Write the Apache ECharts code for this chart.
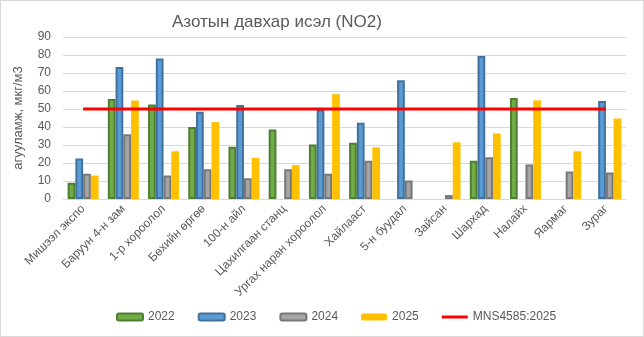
<!DOCTYPE html>
<html><head><meta charset="utf-8">
<script src="https://cdn.jsdelivr.net/npm/echarts@6/dist/echarts.min.js"></script>
<style>html,body{margin:0;padding:0;background:#fff}#c{width:644px;height:337px;box-sizing:border-box;border:1px solid #d9d9d9}</style>
</head><body><div id="c"></div>
<script>
const categories = ["Мишээл экспо","Баруун 4-н зам","1-р хороолол","Бөхийн өргөө","100-н айл","Цахилгаан станц","Ургах наран хороолол","Хайлааст","5-н буудал","Зайсан","Шархад","Налайх","Яармаг","Зураг"];
const v2022 = [9, 55.6, 52.5, 40, 29, 38.6, 30.3, 31.3, null, null, 21.3, 56.1, null, null];
const v2023 = [22.5, 73.4, 78, 48.5, 52.2, null, 49.7, 42.3, 66, null, 79.5, null, null, 54.5];
const v2024 = [14, 36, 13, 16.5, 11.5, 16.5, 14, 21.3, 10.3, 2.2, 23.2, 19.1, 15.3, 14.7];
const v2025 = [13, 54.7, 26.5, 42.7, 22.8, 18.8, 58.2, 28.7, null, 31.5, 36.4, 54.8, 26.5, 44.7];
const standard = [50,50,50,50,50,50,50,50,50,50,50,50,50,50];
const yTicks = {min:0, max:90, interval:10};

const font = 'Liberation Sans, Arial, sans-serif';
const chart = echarts.init(document.getElementById('c'));
function bar(name, data, fill, border){
  return {name, type:'bar', data, barGap:'0%', barCategoryGap:'23%',
    itemStyle:{color:fill, borderColor:border, borderWidth: border? 2:0}};
}
chart.setOption({
  animation:false,
  textStyle:{fontFamily:font},
  title:{text:'Азотын давхар исэл (NO2)', left:166, top:8,
    textStyle:{fontSize:17, fontWeight:'normal', color:'#595959', fontFamily:font}},
  grid:{left:62, right:17, top:36, bottom:137},
  legend:{bottom:8, left:110, itemGap:23, itemWidth:26, itemHeight:7,
    textStyle:{color:'#595959', fontSize:12, fontFamily:font},
    data:['2022','2023','2024','2025',{name:'MNS4585:2025', icon:'path://M0,0H26V3H0Z'}]},
  xAxis:{type:'category', data:categories,
    axisLine:{lineStyle:{color:'#d9d9d9'}}, axisTick:{show:false},
    axisLabel:{rotate:45, interval:0, color:'#595959', fontSize:12, fontFamily:font, margin:8}},
  yAxis:{type:'value', min:yTicks.min, max:yTicks.max, interval:yTicks.interval,
    name:'агууламж, мкг/м3', nameLocation:'middle', nameGap:38,
    nameTextStyle:{color:'#595959', fontSize:13, fontFamily:font},
    axisLine:{show:false}, axisTick:{show:false},
    splitLine:{lineStyle:{color:'#d9d9d9', width:1}},
    axisLabel:{color:'#595959', fontSize:12, fontFamily:font, margin:12}},
  series:[
    bar('2022', v2022, '#70AD47', '#507E32'),
    bar('2023', v2023, '#5B9BD5', '#41719C'),
    bar('2024', v2024, '#A5A5A5', '#787878'),
    bar('2025', v2025, '#FFC000', null),
    {name:'MNS4585:2025', type:'line', data:standard, symbol:'none',
      lineStyle:{color:'#FF0000', width:3}, itemStyle:{color:'#FF0000'}, z:5}
  ]
});
</script></body></html>
